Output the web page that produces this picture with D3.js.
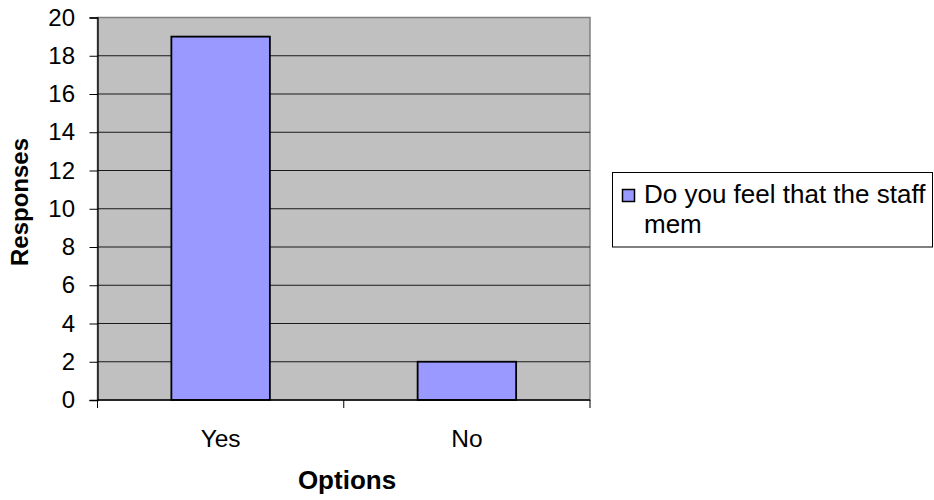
<!DOCTYPE html>
<html>
<head>
<meta charset="utf-8">
<script src="https://d3js.org/d3.v7.min.js"></script>
<style>
  body { margin: 0; background: #fff; }
  svg { display: block; font-family: "Liberation Sans", Arial, sans-serif; }
</style>
</head>
<body>
<svg id="chart" width="934" height="500"></svg>
<script>
// Survey answers
const categories = ["Yes", "No"];
const responses = [19, 2];
const yTicks = [0, 2, 4, 6, 8, 10, 12, 14, 16, 18, 20];
const seriesName = ["Do you feel that the staff", "mem"];

const FONT = "Liberation Sans, Arial, sans-serif";
const svg = d3.select("#chart");
const plot = { left: 97.5, right: 590, top: 17.5, bottom: 400 };

const x = d3.scaleBand()
  .domain(categories)
  .range([plot.left, plot.right])
  .paddingInner(0.6)
  .paddingOuter(0.3);

const y = d3.scaleLinear().domain([0, 20]).range([plot.bottom, plot.top]);

// plot background
svg.append("rect")
  .attr("x", plot.left).attr("y", plot.top)
  .attr("width", plot.right - plot.left).attr("height", plot.bottom - plot.top)
  .attr("fill", "#c0c0c0").attr("stroke", "#808080").attr("stroke-width", 1.5);

// horizontal grid lines
svg.append("g").selectAll("line")
  .data(yTicks.filter(d => d > 0 && d < 20))
  .join("line")
  .attr("x1", plot.left).attr("x2", plot.right)
  .attr("y1", d => y(d)).attr("y2", d => y(d))
  .attr("stroke", "#1a1a1a").attr("stroke-width", 1);

// bars
svg.append("g").selectAll("rect")
  .data(categories.map((c, i) => ({ c, v: responses[i] })))
  .join("rect")
  .attr("x", d => x(d.c))
  .attr("width", x.bandwidth())
  .attr("y", d => y(d.v))
  .attr("height", d => y(0) - y(d.v))
  .attr("fill", "#9999ff")
  .attr("stroke", "#000")
  .attr("stroke-width", 1.8);

// y axis
const yAxis = d3.axisLeft(y).tickValues(yTicks).tickSize(8).tickPadding(14.5);
const gy = svg.append("g").attr("transform", `translate(${plot.left},0)`).call(yAxis);
gy.select(".domain").attr("stroke", "#000").attr("stroke-width", 1.3);
gy.selectAll(".tick line").attr("stroke", "#000");
gy.selectAll(".tick text").attr("font-size", 24).attr("fill", "#000")
  .attr("font-family", FONT);

// x axis: ticks at category boundaries
const gx = svg.append("g");
gx.append("line")
  .attr("x1", plot.left).attr("x2", plot.right)
  .attr("y1", plot.bottom).attr("y2", plot.bottom)
  .attr("stroke", "#000").attr("stroke-width", 1.3);
const boundaries = d3.range(categories.length + 1)
  .map(i => plot.left + i * (plot.right - plot.left) / categories.length);
gx.selectAll("line.tk").data(boundaries).join("line").attr("class", "tk")
  .attr("x1", d => d).attr("x2", d => d)
  .attr("y1", plot.bottom).attr("y2", plot.bottom + 8)
  .attr("stroke", "#000");
gx.selectAll("text").data(categories).join("text")
  .attr("x", d => x(d) + x.bandwidth() / 2)
  .attr("y", 446.5)
  .attr("text-anchor", "middle")
  .attr("font-size", 24.5)
  .text(d => d);

// axis titles
svg.append("text")
  .attr("transform", "translate(28,202) rotate(-90)")
  .attr("text-anchor", "middle")
  .attr("font-size", 24).attr("font-weight", "bold")
  .text("Responses");
svg.append("text")
  .attr("x", 347).attr("y", 488.5)
  .attr("text-anchor", "middle")
  .attr("font-size", 26).attr("font-weight", "bold")
  .text("Options");

// legend
const lg = svg.append("g");
lg.append("rect")
  .attr("x", 612.5).attr("y", 172.5).attr("width", 320).attr("height", 74.5)
  .attr("fill", "#fff").attr("stroke", "#000").attr("stroke-width", 1);
lg.append("rect")
  .attr("x", 622.5).attr("y", 189.5).attr("width", 12).attr("height", 12)
  .attr("fill", "#9999ff").attr("stroke", "#000").attr("stroke-width", 1.5);
lg.selectAll("text").data(seriesName).join("text")
  .attr("x", 644)
  .attr("y", (d, i) => 203 + i * 30)
  .attr("font-size", 26)
  .text(d => d);
</script>
</body>
</html>
